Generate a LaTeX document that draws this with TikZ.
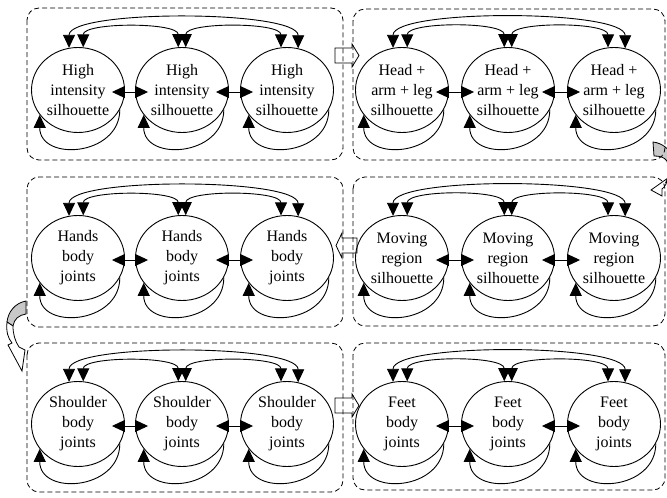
\documentclass[tikz,border=0pt]{standalone}
\usepackage{fontspec}
\setmainfont{Liberation Serif}
\usetikzlibrary{arrows.meta,shapes.geometric}
\definecolor{G1}{RGB}{200,200,200}

\begin{document}
\begin{tikzpicture}[x=1pt,y=1pt,
    >={Triangle[length=13pt,width=12pt]},
    stage/.style={ellipse,draw,line width=0.9pt,minimum width=93pt,minimum height=85pt,
                  inner sep=0pt,align=center,font=\fontsize{16}{20}\selectfont},
    panel/.style={draw,line width=0.8pt,dash pattern=on 5pt off 3pt,rounded corners=12pt},
    link/.style={line width=0.9pt,<->},
    selfloop/.style={line width=0.9pt,->},
    block/.style={draw,fill=white,line width=0.8pt}]
      \useasboundingbox (0,0) rectangle (667,-498);
      % block arrows between the panels
      \draw[block] (335,-48) -- (352,-48) -- (352,-44) -- (359,-55.5) -- (352,-67) -- (352,-63) -- (335,-63) -- cycle;
      \draw[block] (357,-238) -- (342,-238) -- (342,-233) -- (336,-245.5) -- (342,-258) -- (342,-253) -- (357,-253) -- cycle;
      \draw[block] (335,-398) -- (352,-398) -- (352,-394) -- (359,-405.5) -- (352,-417) -- (352,-413) -- (335,-413) -- cycle;
      % curved arrows at the sides
      \begin{scope}
      \clip (0,0) rectangle (667,-498);
      \filldraw[fill=G1,line width=0.8pt] (653,-142) .. controls (662,-143) and (670,-149) .. (674,-159) -- (667,-161) .. controls (664,-157) and (660,-156) .. (654,-156) -- cycle;
      \filldraw[fill=white,line width=0.8pt] (674,-159) .. controls (677,-169) and (673,-178) .. (666,-182) -- (668,-178) -- (651,-190) -- (662,-196) -- (662,-189) .. controls (668,-185) and (670,-172) .. (667,-161) -- cycle;
      \filldraw[fill=G1,line width=0.8pt] (26,-301) .. controls (15,-303) and (8,-312) .. (7,-322) -- (13,-326) .. controls (14,-319) and (19,-315) .. (26,-314) -- cycle;
      \filldraw[fill=white,line width=0.8pt] (7,-322) .. controls (6,-332) and (8,-338) .. (12,-343) -- (8,-345) -- (22,-371) -- (25,-350) -- (19,-347) .. controls (15,-341) and (13,-334) .. (13,-326) -- cycle;
      \end{scope}
      % panels
      \draw[panel] (27,-8) rectangle (343,-160);
      \draw[panel] (353,-9) rectangle (665,-160);
      \draw[panel] (27,-177) rectangle (343,-327);
      \draw[panel] (353,-177) rectangle (665,-326);
      \draw[panel] (27,-343) rectangle (343,-492);
      \draw[panel] (353,-343) rectangle (665,-490);
      % high intensity silhouette
      \node[stage] (hi1) at (78,-90) {High\\intensity\\silhouette};
      \node[stage] (hi2) at (182,-90) {High\\intensity\\silhouette};
      \node[stage] (hi3) at (287,-90) {High\\intensity\\silhouette};
      \draw[link] ([shift={(-13pt,-2pt)}]hi1.east) -- ([shift={(13pt,-2pt)}]hi2.west); \draw[link] ([shift={(-13pt,-2pt)}]hi2.east) -- ([shift={(13pt,-2pt)}]hi3.west);
      \draw[link] (hi1.102) to[out=90,in=90,looseness=0.43] (hi3.75);
      \draw[link] (hi1.83) to[out=90,in=90,looseness=0.68] (hi2.95); \draw[link] (hi2.85) to[out=90,in=90,looseness=0.68] (hi3.98);
      \draw[selfloop] (hi1.-25) to[out=-90,in=-90,looseness=1.5] (hi1.213);
      \draw[selfloop] (hi2.-25) to[out=-90,in=-90,looseness=1.5] (hi2.213);
      \draw[selfloop] (hi3.-25) to[out=-90,in=-90,looseness=1.5] (hi3.213);
      % head + arm + leg silhouette
      \node[stage] (hd1) at (402,-90) {Head +\\arm + leg\\silhouette};
      \node[stage] (hd2) at (508,-90) {Head +\\arm + leg\\silhouette};
      \node[stage] (hd3) at (614,-90) {Head +\\arm + leg\\silhouette};
      \draw[link] ([shift={(-13pt,-2pt)}]hd1.east) -- ([shift={(13pt,-2pt)}]hd2.west); \draw[link] ([shift={(-13pt,-2pt)}]hd2.east) -- ([shift={(13pt,-2pt)}]hd3.west);
      \draw[link] (hd1.102) to[out=90,in=90,looseness=0.43] (hd3.75);
      \draw[link] (hd1.83) to[out=90,in=90,looseness=0.68] (hd2.95); \draw[link] (hd2.85) to[out=90,in=90,looseness=0.68] (hd3.98);
      \draw[selfloop] (hd1.-25) to[out=-90,in=-90,looseness=1.5] (hd1.213);
      \draw[selfloop] (hd2.-25) to[out=-90,in=-90,looseness=1.5] (hd2.213);
      \draw[selfloop] (hd3.-25) to[out=-90,in=-90,looseness=1.5] (hd3.213);
      % hands body joints
      \node[stage] (hn1) at (78,-258) {Hands\\body\\joints};
      \node[stage] (hn2) at (182,-258) {Hands\\body\\joints};
      \node[stage] (hn3) at (287,-258) {Hands\\body\\joints};
      \draw[link] ([shift={(-13pt,-2pt)}]hn1.east) -- ([shift={(13pt,-2pt)}]hn2.west); \draw[link] ([shift={(-13pt,-2pt)}]hn2.east) -- ([shift={(13pt,-2pt)}]hn3.west);
      \draw[link] (hn1.102) to[out=90,in=90,looseness=0.43] (hn3.75);
      \draw[link] (hn1.83) to[out=90,in=90,looseness=0.68] (hn2.95); \draw[link] (hn2.85) to[out=90,in=90,looseness=0.68] (hn3.98);
      \draw[selfloop] (hn1.-25) to[out=-90,in=-90,looseness=1.5] (hn1.213);
      \draw[selfloop] (hn2.-25) to[out=-90,in=-90,looseness=1.5] (hn2.213);
      \draw[selfloop] (hn3.-25) to[out=-90,in=-90,looseness=1.5] (hn3.213);
      % moving region silhouette
      \node[stage] (mv1) at (402,-258) {Moving\\region\\silhouette};
      \node[stage] (mv2) at (508,-258) {Moving\\region\\silhouette};
      \node[stage] (mv3) at (614,-258) {Moving\\region\\silhouette};
      \draw[link] ([shift={(-13pt,-2pt)}]mv1.east) -- ([shift={(13pt,-2pt)}]mv2.west); \draw[link] ([shift={(-13pt,-2pt)}]mv2.east) -- ([shift={(13pt,-2pt)}]mv3.west);
      \draw[link] (mv1.102) to[out=90,in=90,looseness=0.43] (mv3.75);
      \draw[link] (mv1.83) to[out=90,in=90,looseness=0.68] (mv2.95); \draw[link] (mv2.85) to[out=90,in=90,looseness=0.68] (mv3.98);
      \draw[selfloop] (mv1.-25) to[out=-90,in=-90,looseness=1.5] (mv1.213);
      \draw[selfloop] (mv2.-25) to[out=-90,in=-90,looseness=1.5] (mv2.213);
      \draw[selfloop] (mv3.-25) to[out=-90,in=-90,looseness=1.5] (mv3.213);
      % shoulder body joints
      \node[stage] (sh1) at (78,-424) {Shoulder\\body\\joints};
      \node[stage] (sh2) at (182,-424) {Shoulder\\body\\joints};
      \node[stage] (sh3) at (287,-424) {Shoulder\\body\\joints};
      \draw[link] ([shift={(-13pt,-2pt)}]sh1.east) -- ([shift={(13pt,-2pt)}]sh2.west); \draw[link] ([shift={(-13pt,-2pt)}]sh2.east) -- ([shift={(13pt,-2pt)}]sh3.west);
      \draw[link] (sh1.102) to[out=90,in=90,looseness=0.43] (sh3.75);
      \draw[link] (sh1.83) to[out=90,in=90,looseness=0.68] (sh2.95); \draw[link] (sh2.85) to[out=90,in=90,looseness=0.68] (sh3.98);
      \draw[selfloop] (sh1.-25) to[out=-90,in=-90,looseness=1.5] (sh1.213);
      \draw[selfloop] (sh2.-25) to[out=-90,in=-90,looseness=1.5] (sh2.213);
      \draw[selfloop] (sh3.-25) to[out=-90,in=-90,looseness=1.5] (sh3.213);
      % feet body joints
      \node[stage] (ft1) at (402,-424) {Feet\\body\\joints};
      \node[stage] (ft2) at (508,-424) {Feet\\body\\joints};
      \node[stage] (ft3) at (614,-424) {Feet\\body\\joints};
      \draw[link] ([shift={(-13pt,-2pt)}]ft1.east) -- ([shift={(13pt,-2pt)}]ft2.west); \draw[link] ([shift={(-13pt,-2pt)}]ft2.east) -- ([shift={(13pt,-2pt)}]ft3.west);
      \draw[link] (ft1.102) to[out=90,in=90,looseness=0.43] (ft3.75);
      \draw[link] (ft1.83) to[out=90,in=90,looseness=0.68] (ft2.95); \draw[link] (ft2.85) to[out=90,in=90,looseness=0.68] (ft3.98);
      \draw[selfloop] (ft1.-25) to[out=-90,in=-90,looseness=1.5] (ft1.213);
      \draw[selfloop] (ft2.-25) to[out=-90,in=-90,looseness=1.5] (ft2.213);
      \draw[selfloop] (ft3.-25) to[out=-90,in=-90,looseness=1.5] (ft3.213);
    \end{tikzpicture}
\end{document}
